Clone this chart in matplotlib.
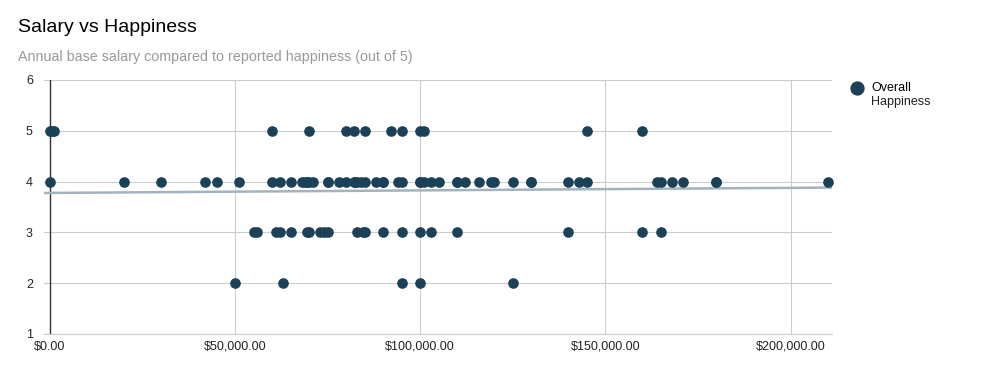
import numpy as np
import matplotlib.pyplot as plt
from matplotlib.ticker import FuncFormatter

plt.rcParams['font.family'] = ['Liberation Sans', 'DejaVu Sans']

# salários (USD) por nível de felicidade
happy5 = [0, 500, 1000, 60000, 70000, 80000, 82000, 85000, 92000, 95000,
          100000, 101000, 145000, 160000]
happy4 = [0, 20000, 30000, 42000, 45000, 51000, 60000, 62000, 65000, 68000,
          69000, 69500, 70000, 71000, 75000, 75000, 78000, 80000, 82000, 82500,
          83000, 84000, 85000, 88000, 90000, 90000, 94000, 95000, 100000, 100000,
          101000, 103000, 105000, 110000, 110000, 112000, 116000, 119000, 120000,
          125000, 130000, 130000, 140000, 143000, 145000, 164000, 165000, 168000,
          171000, 180000, 180000, 210000]
happy3 = [55000, 56000, 61000, 62000, 65000, 69500, 70000, 73000, 74000, 75000,
          83000, 84500, 85000, 90000, 95000, 100000, 103000, 110000, 140000,
          160000, 165000]
happy2 = [50000, 63000, 95000, 100000, 125000]

salary = np.array(happy5 + happy4 + happy3 + happy2, dtype=float)
happiness = np.array([5] * len(happy5) + [4] * len(happy4)
                     + [3] * len(happy3) + [2] * len(happy2), dtype=float)

# linha de tendência (intercepto e inclinação)
trend_intercept = 3.777
trend_slope = 5.0e-7

x_ticks = [0, 50000, 100000, 150000, 200000]
y_ticks = [1, 2, 3, 4, 5, 6]
x_lim = (-1600, 211200)

fig = plt.figure(figsize=(9.81, 3.71), dpi=100)
ax = fig.add_axes([44 / 981, 37 / 371, (832 - 44) / 981, (334 - 80) / 371])

xt = np.array(x_lim)
ax.plot(xt, trend_intercept + trend_slope * xt, color='#a3b3bd', lw=1.8, zorder=2)

ax.scatter(salary, happiness, s=44, color='#1b4158', zorder=3,
           label='Overall', clip_on=False)

ax.set_xlim(*x_lim)
ax.set_ylim(1, 6)
ax.set_xticks(x_ticks)
ax.set_yticks(y_ticks)
ax.xaxis.set_major_formatter(FuncFormatter(lambda v, _: f'${v:,.2f}'))
ax.grid(True, color='#cccccc', lw=0.8)
ax.set_axisbelow(True)
ax.axvline(0, color='#333333', lw=1, zorder=1)
for s in ['top', 'right', 'left']:
    ax.spines[s].set_visible(False)
ax.spines['bottom'].set_color('#cccccc')
ax.tick_params(length=0, labelsize=9, colors='#222222')
ax.tick_params(axis='x', pad=5)
ax.tick_params(axis='y', pad=8)

fig.text(18 / 981, 1 - 28 / 371, 'Salary vs Happiness', fontsize=14,
         va='center', ha='left', color='#000000')
fig.text(18 / 981, 1 - 57 / 371,
         'Annual base salary compared to reported happiness (out of 5)',
         fontsize=10.3, va='center', ha='left', color='#999999')

leg = ax.legend(loc='center left', bbox_to_anchor=(851 / 981, 1 - 88 / 371),
                bbox_transform=fig.transFigure, frameon=False, fontsize=9,
                handletextpad=0.6, markerscale=1.4, borderpad=0,
                borderaxespad=0, handlelength=1.0)
fig.text(871 / 981, 1 - 101.5 / 371, 'Happiness', fontsize=9,
         va='center', ha='left', color='#222222')

fig.savefig('out.png', dpi=100)
